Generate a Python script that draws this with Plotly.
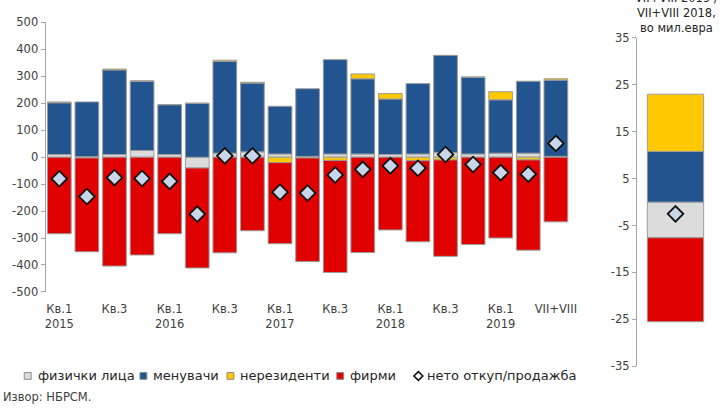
import plotly.graph_objects as go

# Quarterly categories (2015 Q1 .. 2019 Q2) plus July+August 2019
categories = [
    "Кв.1 2015", "Кв.2 2015", "Кв.3 2015", "Кв.4 2015",
    "Кв.1 2016", "Кв.2 2016", "Кв.3 2016", "Кв.4 2016",
    "Кв.1 2017", "Кв.2 2017", "Кв.3 2017", "Кв.4 2017",
    "Кв.1 2018", "Кв.2 2018", "Кв.3 2018", "Кв.4 2018",
    "Кв.1 2019", "Кв.2 2019", "VII+VIII",
]
tick_values = categories[::2]
tick_text = ["Кв.1<br>2015", "Кв.3", "Кв.1<br>2016", "Кв.3", "Кв.1<br>2017",
             "Кв.3", "Кв.1<br>2018", "Кв.3", "Кв.1<br>2019", "VII+VIII"]
y_ticks = [500, 400, 300, 200, 100, 0, -100, -200, -300, -400, -500]
y2_ticks = [35, 25, 15, 5, -5, -15, -25, -35]

# Net purchase/sale by sector, million euros
individuals = [10, 2, 10, 25, 10, -40, 15, 20, 12, 3, 12, 12, 10, 12, 17, 12, 15, 15, 3]
exchange_offices = [192, 203, 314, 256, 185, 200, 341, 255, 177, 251, 350, 279, 206, 261, 361, 285, 198, 267, 283]
non_residents = [3, -3, 3, 3, 0, 0, 4, 3, -20, -3, -12, 18, 20, -13, -10, 0, 30, -10, 5]
companies = [-284, -348, -404, -363, -284, -371, -355, -273, -301, -384, -416, -354, -270, -301, -358, -324, -300, -335, -240]
net_total = [-80, -146, -76, -79, -90, -211, 5, 5, -130, -133, -66, -45, -32, -41, 10, -27, -57, -63, 51]

# Change VII+VIII 2019 vs VII+VIII 2018
change_category = ["VII+VIII"]
change_individuals = [-7.6]
change_exchange_offices = [10.8]
change_non_residents = [12.2]
change_companies = [-17.9]
change_net = [-2.5]

names = ["физички лица", "менувачи", "нерезиденти", "фирми"]
net_name = "нето откуп/продажба"
colors = ["#dcdcdc", "#22558f", "#ffc800", "#e00000"]
main_series = [individuals, exchange_offices, non_residents, companies]
side_series = [change_individuals, change_exchange_offices, change_non_residents, change_companies]

W, H = 726, 410
FONT = "DejaVu Sans, sans-serif"
TXT = "#404040"
DIAMOND = dict(symbol="diamond", size=12, color="#c9d5e8",
               line=dict(color="#111111", width=1.8))

fig = go.Figure()

for name, color, vals in zip(names, colors, main_series):
    fig.add_trace(go.Bar(
        x=categories, y=vals, name=name, width=0.86, showlegend=False,
        marker=dict(color=color, line=dict(color="#9c9c9c", width=1)),
        xaxis="x", yaxis="y",
    ))

fig.add_trace(go.Scatter(
    x=categories, y=net_total, mode="markers", name=net_name,
    marker=DIAMOND, showlegend=False, xaxis="x", yaxis="y",
))

for name, color, vals in zip(names, colors, side_series):
    fig.add_trace(go.Bar(
        x=change_category, y=vals, name=name, width=0.73, showlegend=False,
        marker=dict(color=color, line=dict(color="#9c9c9c", width=1)),
        xaxis="x2", yaxis="y2",
    ))

fig.add_trace(go.Scatter(
    x=change_category, y=change_net, mode="markers", name=net_name,
    marker=DIAMOND, showlegend=False, xaxis="x2", yaxis="y2",
))


def px_x(p):
    return p / W


def px_y(p):
    return 1 - p / H


# Compact legend row: small swatch + label for each series
legend_row_y = 382
legend_items = [
    (names[0], colors[0], 27, 35),
    (names[1], colors[1], 144, 152),
    (names[2], colors[2], 232, 240),
    (names[3], colors[3], 343, 351),
    (net_name, None, 422, 429),
]
shapes = []
annotations = []
for label, color, sx, tx in legend_items:
    if color is None:
        d = 4.5
        path = (f"M {px_x(sx)},{px_y(legend_row_y - d)} L {px_x(sx + d)},{px_y(legend_row_y)} "
                f"L {px_x(sx)},{px_y(legend_row_y + d)} L {px_x(sx - d)},{px_y(legend_row_y)} Z")
        shapes.append(dict(type="path", xref="paper", yref="paper", path=path,
                           fillcolor="white", line=dict(color="#111111", width=1.6)))
    else:
        h = 3.5
        shapes.append(dict(type="rect", xref="paper", yref="paper",
                           x0=px_x(sx - h), x1=px_x(sx + h),
                           y0=px_y(legend_row_y + h), y1=px_y(legend_row_y - h),
                           fillcolor=color, line=dict(color="#8c8c8c", width=1)))
    annotations.append(dict(text=label, x=px_x(tx), y=px_y(legend_row_y),
                            xref="paper", yref="paper", xanchor="left", yanchor="middle",
                            showarrow=False, font=dict(size=13, color="#262626")))

annotations.append(dict(text="Извор: НБРСМ.", x=0, y=px_y(404), xref="paper", yref="paper",
                        xanchor="left", yanchor="middle", showarrow=False,
                        font=dict(size=11.5, color=TXT)))
annotations.append(dict(text="VII+VIII 2019 /<br>VII+VIII 2018,<br>во мил.евра",
                        x=px_x(683), y=px_y(31), xref="paper", yref="paper",
                        xanchor="center", yanchor="bottom", showarrow=False,
                        font=dict(size=11.5, color="#262626")))

fig.update_layout(
    width=W, height=H,
    margin=dict(l=0, r=0, t=0, b=0),
    paper_bgcolor="white", plot_bgcolor="white",
    barmode="relative",
    showlegend=False,
    font=dict(family=FONT, size=11.5, color=TXT),
    xaxis=dict(
        domain=[px_x(45), px_x(575)], anchor="y",
        type="category", categoryorder="array", categoryarray=categories,
        range=[-0.5, len(categories) - 0.5],
        tickmode="array", tickvals=tick_values, ticktext=tick_text,
        showline=False, showgrid=False, ticks="", zeroline=False,
        ticklabelstandoff=9,
        tickfont=dict(size=11.5, color=TXT),
    ),
    yaxis=dict(
        domain=[px_y(295), px_y(16)], anchor="x",
        range=[-500, 500],
        tickmode="array", tickvals=y_ticks, ticktext=[str(v) for v in y_ticks],
        showline=True, linecolor="#a6a6a6", linewidth=1,
        ticks="outside", ticklen=4, tickcolor="#a6a6a6",
        showgrid=False, zeroline=False,
        tickfont=dict(size=11.5, color=TXT),
    ),
    xaxis2=dict(
        domain=[px_x(643), px_x(721)], anchor="y2",
        type="category", range=[-0.5, 0.5],
        showticklabels=False, showline=False, showgrid=False, ticks="", zeroline=False,
    ),
    yaxis2=dict(
        domain=[px_y(372), px_y(32)], anchor="x2",
        range=[-35, 35],
        tickmode="array", tickvals=y2_ticks, ticktext=[str(v) for v in y2_ticks],
        showline=True, linecolor="#a6a6a6", linewidth=1,
        ticks="outside", ticklen=4, tickcolor="#a6a6a6",
        showgrid=False, zeroline=False,
        tickfont=dict(size=11.5, color=TXT),
    ),
    shapes=shapes,
    annotations=annotations,
)

fig.write_html("out.html")
